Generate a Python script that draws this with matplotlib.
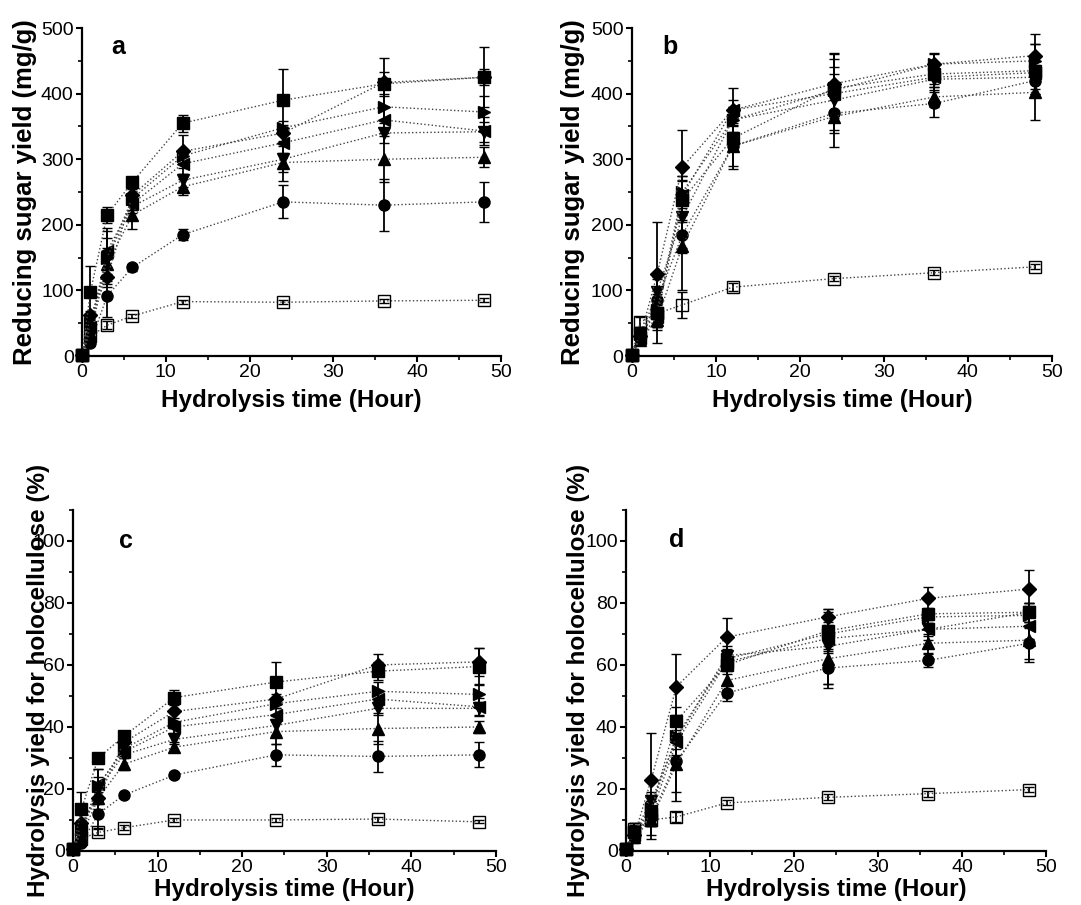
import matplotlib
matplotlib.use("Agg")
import matplotlib.pyplot as plt
from matplotlib.ticker import MultipleLocator

plt.rcParams['font.family'] = ['Liberation Sans', 'DejaVu Sans']

hours = [0, 1, 3, 6, 12, 24, 36, 48]
# series order: control (open square), square, circle, up, down, left, right, diamond
markers = ['s', 's', 'o', '^', 'v', '<', '>', 'D']

# a: reducing sugar yield (mg/g)
sugar_a = [
    [2, 30, 47, 61, 83, 82, 84, 85],
    [2, 98, 215, 265, 355, 390, 415, 425],
    [2, 20, 92, 135, 185, 235, 230, 235],
    [2, 35, 140, 215, 258, 295, 300, 303],
    [2, 40, 150, 228, 268, 300, 340, 342],
    [2, 45, 160, 232, 293, 325, 360, 343],
    [2, 50, 150, 240, 305, 348, 380, 372],
    [2, 62, 120, 245, 312, 340, 417, 425],
]
sugar_a_err = [
    [0, 4, 6, 3, 3, 3, 3, 3],
    [0, 40, 12, 5, 13, 47, 18, 46],
    [0, 4, 32, 5, 8, 25, 40, 30],
    [0, 5, 25, 22, 12, 28, 35, 15],
    [0, 5, 30, 10, 10, 20, 15, 15],
    [0, 5, 35, 10, 15, 15, 20, 22],
    [0, 5, 40, 8, 10, 10, 20, 25],
    [0, 6, 15, 10, 25, 12, 38, 12],
]

# b: reducing sugar yield (mg/g)
sugar_b = [
    [2, 52, 65, 78, 105, 118, 127, 136],
    [2, 35, 65, 238, 332, 408, 430, 435],
    [2, 28, 85, 185, 320, 370, 385, 420],
    [2, 25, 55, 168, 320, 365, 395, 402],
    [2, 30, 98, 212, 360, 390, 422, 425],
    [2, 28, 60, 245, 375, 400, 425, 432],
    [2, 33, 70, 250, 360, 405, 445, 450],
    [2, 30, 125, 288, 375, 415, 445, 458],
]
sugar_b_err = [
    [0, 8, 4, 20, 6, 4, 4, 4],
    [0, 10, 20, 30, 20, 45, 15, 40],
    [0, 8, 35, 20, 35, 25, 20, 20],
    [0, 8, 35, 68, 30, 25, 15, 42],
    [0, 10, 20, 55, 20, 72, 20, 25],
    [0, 8, 20, 30, 15, 30, 15, 25],
    [0, 8, 25, 25, 20, 35, 15, 25],
    [0, 10, 80, 57, 33, 45, 17, 33],
]

# c: hydrolysis yield for holocellulose (%)
holo_c = [
    [0.5, 4, 6, 7.5, 10, 10, 10.3, 9.4],
    [0.5, 13.5, 30, 37, 49.5, 54.5, 58, 59.5],
    [0.5, 2.5, 12, 18, 24.5, 31, 30.5, 31],
    [0.5, 5, 17, 28, 33.5, 38.5, 39.5, 40],
    [0.5, 6, 20, 31, 36, 40.5, 46, 46],
    [0.5, 6.5, 21.5, 32, 40, 44, 49, 46.5],
    [0.5, 7, 21, 33, 41.5, 47.5, 51.5, 50.5],
    [0.5, 9, 17, 35, 45, 49, 60, 61],
]
holo_c_err = [
    [0, 1, 1, 0.8, 0.5, 0.5, 0.8, 0.5],
    [0, 5.5, 1.5, 1, 2.5, 6.5, 3, 6],
    [0, 0.8, 4.5, 0.8, 1, 3.5, 5, 4],
    [0, 1, 3.5, 2, 1.5, 4, 5, 2],
    [0, 1, 4, 1, 1.5, 3, 2, 2],
    [0, 1, 5, 1.5, 2, 2, 3, 3],
    [0, 1, 5.5, 1, 1.5, 1.5, 3, 3.5],
    [0, 1, 2, 1.5, 3.5, 1.5, 3.5, 4.5],
]

# d: hydrolysis yield for holocellulose (%)
holo_d = [
    [0.5, 7, 10, 11, 15.5, 17.3, 18.5, 19.8],
    [0.5, 6, 13, 42, 60, 71, 76.5, 77],
    [0.5, 5, 11, 29, 51, 59, 61.5, 67],
    [0.5, 4.5, 10, 28, 55, 62, 67, 68],
    [0.5, 6, 16, 36, 63, 66, 71.5, 77],
    [0.5, 5, 12, 35, 61, 68.5, 71.5, 72.5],
    [0.5, 6, 14, 37, 62, 70, 75.5, 76],
    [0.5, 5, 23, 53, 69, 75.5, 81.5, 84.5],
]
holo_d_err = [
    [0, 2, 1.5, 1.5, 0.8, 1, 1, 0.8],
    [0, 2.5, 3, 4.5, 3, 6, 2, 3],
    [0, 2, 6, 13, 2.5, 5, 2, 6],
    [0, 2, 6, 9, 3, 9.5, 3, 6],
    [0, 3, 3, 8, 3, 12, 3.5, 3],
    [0, 2, 4, 4, 2.5, 4, 2, 4],
    [0, 2, 4, 4, 3, 4, 2, 4],
    [0, 2, 15, 10.5, 6, 2.5, 3.5, 6],
]

fig = plt.figure(figsize=(10.81, 9.05), dpi=100)

panels = [
    # rect, data, err, letter, ylabel, ymax, ymajor, ylabel x, xlabel y, letter pos, ylabel size
    ([0.0759, 0.6066, 0.3876, 0.3624], sugar_a, sugar_a_err, 'a',
     'Reducing sugar yield (mg/g)', 500, 100, -0.107, -0.100, (0.086, 0.942), 18.5),
    ([0.5846, 0.6066, 0.3885, 0.3624], sugar_b, sugar_b_err, 'b',
     'Reducing sugar yield (mg/g)', 500, 100, -0.112, -0.100, (0.09, 0.942), 18.5),
    ([0.0675, 0.0597, 0.3913, 0.3768], holo_c, holo_c_err, 'c',
     'Hydrolysis yield for holocellulose (%)', 110, 20, -0.054, -0.080, (0.125, 0.909), 17.5),
    ([0.5791, 0.0597, 0.3885, 0.3768], holo_d, holo_d_err, 'd',
     'Hydrolysis yield for holocellulose (%)', 110, 20, -0.086, -0.080, (0.121, 0.912), 17.5),
]

draw_order = [0, 2, 3, 4, 5, 6, 7, 1]

for rect, data, err, letter, ylab, ymax, ymaj, ylx, xly, lpos, ysize in panels:
    ax = fig.add_axes(rect)
    for i in draw_order:
        is_open = i == 0
        ax.errorbar(hours, data[i], yerr=err[i], marker=markers[i],
                    ms=7 if markers[i] == 'D' else 8,
                    mfc='none' if is_open else 'black', mec='black',
                    mew=1.0, color='#444444', ls=':', lw=1.0,
                    ecolor='black', elinewidth=1.3, capsize=3.5, capthick=1.3,
                    clip_on=False, zorder=3)
    ax.set_xlim(0, 50)
    ax.set_ylim(0, ymax)
    ax.xaxis.set_major_locator(MultipleLocator(10))
    ax.xaxis.set_minor_locator(MultipleLocator(5))
    ax.yaxis.set_major_locator(MultipleLocator(ymaj))
    ax.yaxis.set_minor_locator(MultipleLocator(ymaj / 2))
    if ymax == 110:
        ax.set_yticks([0, 20, 40, 60, 80, 100])
    for s in ['top', 'right']:
        ax.spines[s].set_visible(False)
    for s in ['left', 'bottom']:
        ax.spines[s].set_linewidth(1.6)
    ax.tick_params(which='major', direction='out', length=4, width=1.5,
                   labelsize=14, pad=2)
    ax.tick_params(which='minor', direction='out', length=3, width=1.2)
    ax.set_xlabel('Hydrolysis time (Hour)', fontsize=17.5, fontweight='bold')
    ax.set_ylabel(ylab, fontsize=ysize, fontweight='bold')
    ax.yaxis.set_label_coords(ylx, 0.5)
    ax.xaxis.set_label_coords(0.5, xly)
    ax.text(lpos[0], lpos[1], letter, transform=ax.transAxes, fontsize=18,
            fontweight='bold', ha='center', va='center')

fig.savefig('out.png', dpi=100)
